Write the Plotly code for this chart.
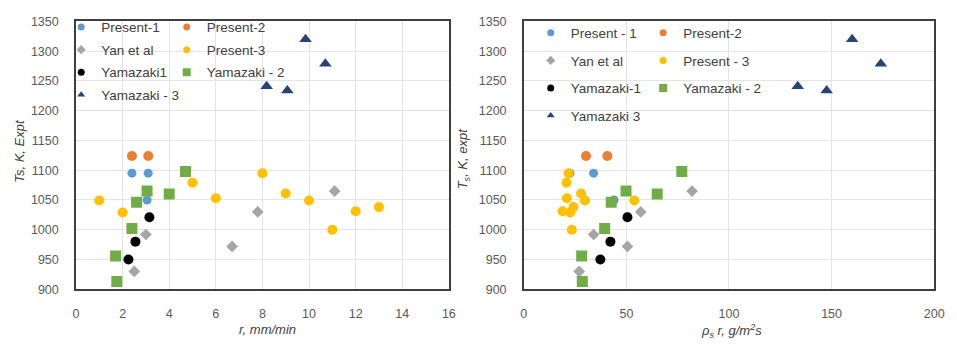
import plotly.graph_objects as go

# Surface temperature vs. regression rate (left) and mass flux (right)
present1_r = [2.4, 3.1, 3.05]
present1_T = [1095, 1095, 1050]
present1_m = [22.5, 34.0, 44.0]

present2_r = [2.4, 3.1]
present2_T = [1124, 1124]
present2_m = [30.3, 40.7]

yan_r = [2.5, 3.0, 6.7, 7.8, 11.1]
yan_T = [930, 992, 972, 1030, 1065]
yan_m = [27.0, 34.0, 50.5, 57.0, 82.0]

present3_r = [1, 2, 5, 6, 8, 9, 10, 11, 12, 13]
present3_T = [1049, 1029, 1079, 1053, 1095, 1061, 1049, 1000, 1031, 1038]
present3_m = [53.8, 22.6, 20.8, 21.0, 21.8, 27.9, 29.8, 23.4, 18.9, 24.2]

yamazaki1_r = [2.25, 2.55, 3.15]
yamazaki1_T = [950, 980, 1021]
yamazaki1_m = [37.3, 42.2, 50.5]

yamazaki2_r = [1.75, 1.7, 2.4, 2.6, 3.05, 4.0, 4.7]
yamazaki2_T = [913, 956, 1002, 1046, 1065, 1060, 1098]
yamazaki2_m = [28.5, 28.2, 39.4, 42.6, 49.8, 65.0, 77.0]

yamazaki3_r = [9.85, 10.7, 8.18, 9.07]
yamazaki3_T = [1320, 1279, 1241, 1234]
yamazaki3_m = [160.0, 174.0, 133.5, 147.6]

# (left name, right name, color, symbol, size, x left, x right, y, legend column)
series = [
    ("Present-1", "Present - 1", "#5B9BD5", "circle", 9, present1_r, present1_m, present1_T, 1),
    ("Present-2", "Present-2", "#ED7D31", "circle", 10, present2_r, present2_m, present2_T, 2),
    ("Yan et al", "Yan et al", "#A5A5A5", "diamond", 9, yan_r, yan_m, yan_T, 1),
    ("Present-3", "Present - 3", "#FFC000", "circle", 10, present3_r, present3_m, present3_T, 2),
    ("Yamazaki1", "Yamazaki-1", "#000000", "circle", 10, yamazaki1_r, yamazaki1_m, yamazaki1_T, 1),
    ("Yamazaki - 2", "Yamazaki - 2", "#70AD47", "square", 11, yamazaki2_r, yamazaki2_m, yamazaki2_T, 2),
    ("Yamazaki - 3", "Yamazaki 3", "#264478", "triangle-up", 11, yamazaki3_r, yamazaki3_m, yamazaki3_T, 1),
]

fig = go.Figure()

for i, (nl, nr, col, sym, sz, xr, xm, yt, c) in enumerate(series):
    fig.add_trace(go.Scatter(x=xr, y=yt, mode="markers", xaxis="x", yaxis="y",
                             marker=dict(color=col, symbol=sym, size=sz), showlegend=False))
    fig.add_trace(go.Scatter(x=xm, y=yt, mode="markers", xaxis="x2", yaxis="y2",
                             marker=dict(color=col, symbol=sym, size=sz), showlegend=False))

# legend entries (smaller markers than the data points)
for i, (nl, nr, col, sym, sz, xr, xm, yt, c) in enumerate(series):
    lsz = 7 if sym != "square" else 8
    fig.add_trace(go.Scatter(x=[None], y=[None], mode="markers", xaxis="x", yaxis="y",
                             marker=dict(color=col, symbol=sym, size=lsz), name=nl,
                             legend="legend" if c == 1 else "legend2",
                             legendgroup="L%d" % i, showlegend=True))
    fig.add_trace(go.Scatter(x=[None], y=[None], mode="markers", xaxis="x2", yaxis="y2",
                             marker=dict(color=col, symbol=sym, size=lsz), name=nr,
                             legend="legend3" if c == 1 else "legend4",
                             legendgroup="R%d" % i, showlegend=True))

W, H = 957, 351
FONT = "Liberation Sans, Arial, sans-serif"
tickfont = dict(family=FONT, size=12.5, color="#595959")
axis_common = dict(showgrid=True, gridcolor="#e4e4e4", gridwidth=1, zeroline=False,
                   showline=True, mirror=True, linecolor="#3f3f3f", linewidth=1.5,
                   ticks="", tickfont=tickfont)

legfont = dict(family=FONT, size=13.5, color="#404040")

def leg(xpx, ypx, gap):
    return dict(x=xpx / W, y=1 - ypx / H, xanchor="left", yanchor="top",
                bgcolor="rgba(0,0,0,0)", font=legfont, tracegroupgap=gap,
                itemclick=False, itemdoubleclick=False)

fig.update_layout(
    width=W, height=H,
    margin=dict(l=0, r=0, t=0, b=0),
    paper_bgcolor="white", plot_bgcolor="white",
    xaxis=dict(domain=[74 / W, 452 / W], range=[0, 16], dtick=2, anchor="y",
               ticklabelstandoff=12, **axis_common),
    yaxis=dict(domain=[1 - 294 / H, 1 - 15 / H], range=[900, 1350], dtick=50, anchor="x",
               ticklabelstandoff=13, **axis_common),
    xaxis2=dict(domain=[528 / W, 944 / W], range=[0, 200], dtick=50, anchor="y2",
                ticklabelstandoff=12, **axis_common),
    yaxis2=dict(domain=[1 - 294 / H, 1 - 15 / H], range=[900, 1350], dtick=50, anchor="x2",
                ticklabelstandoff=13, **axis_common),
    legend=leg(59, 5, 2),
    legend2=leg(166, 5, 2),
    legend3=leg(535, 11, 7),
    legend4=leg(649, 11, 7),
)

titlefont = dict(family=FONT, size=13, color="#404040")
ann = dict(xref="paper", yref="paper", xanchor="center", yanchor="middle",
           showarrow=False, font=titlefont)
fig.add_annotation(text="<i>Ts, K, Expt</i>", x=16 / W, y=1 - 150 / H, textangle=-90, **ann)
fig.add_annotation(text="<i>r, mm/min</i>", x=268 / W, y=1 - 336 / H, **ann)
fig.add_annotation(text="<i>T<sub>s</sub>, K, expt</i>", x=467 / W, y=1 - 158 / H,
                   textangle=-90, **ann)
fig.add_annotation(text="<i>ρ<sub>s</sub> r, g/m<sup>2</sup>s</i>", x=739 / W, y=1 - 337 / H,
                   **ann)

fig.write_html("out.html")
